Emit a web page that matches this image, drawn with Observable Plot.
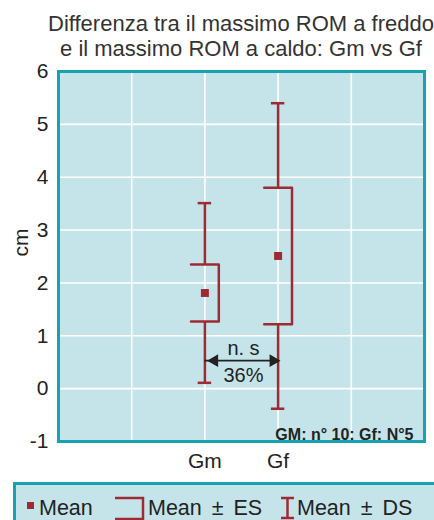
<!DOCTYPE html>
<html>
<head>
<meta charset="utf-8">
<script src="https://cdn.jsdelivr.net/npm/d3@7"></script>
<script src="https://cdn.jsdelivr.net/npm/@observablehq/plot@0.6"></script>
<style>
  html, body { margin: 0; padding: 0; background: #fff; }
  body { position: relative; width: 434px; height: 520px; overflow: hidden; font-family: "Liberation Sans", Arial, sans-serif; }
  #title { position: absolute; left: 41px; top: 11px; width: 400px; text-align: center; font-size: 22px; line-height: 25px; color: #333; white-space: nowrap; }
  #chart { position: absolute; left: 0; top: 60px; }
  #legend { position: absolute; left: 0; top: 482px; }
</style>
</head>
<body>
<div id="title"><span>Differenza tra il massimo ROM a freddo</span><br><span>e il massimo ROM a caldo: Gm vs Gf</span></div>
<div id="chart"></div>
<svg id="legend" width="434" height="38" font-family="Liberation Sans, Arial, sans-serif" font-size="21.5" fill="#222">
  <rect x="14.5" y="1.5" width="430" height="50" fill="#c5e4ea" stroke="#17a2b2" stroke-width="3"></rect>
  <rect x="27" y="20" width="7" height="7" fill="#9e2b34"></rect>
  <text x="39" y="33">Mean</text>
  <path d="M115,16H143V37H115" fill="none" stroke="#9e2b34" stroke-width="2.5"></path>
  <text x="148" y="33" word-spacing="4">Mean ± ES</text>
  <path d="M281,16H294M287.5,16V36M281,36H294" fill="none" stroke="#9e2b34" stroke-width="2.5"></path>
  <text x="297" y="33" word-spacing="4">Mean ± DS</text>
</svg>
<script>
// ---- data ----
const groups = ["Gm", "Gf"];
const means = [1.81, 2.51];
const esValues = [0.54, 1.29];
const dsValues = [1.70, 2.89];
const yTicks = [-1, 0, 1, 2, 3, 4, 5, 6];
const sigLabel = "n. s";
const pctLabel = "36%";
const noteLabel = "GM: n° 10; Gf: N°5";
const yLabel = "cm";

// ---- styling ----
const RED = "#9e2b34";
const TEAL = "#17a2b2";
const FILL = "#c5e4ea";
const CAP = 0.092;   // half width of DS caps (x units)
const BOX = 0.19;    // half width of ES bracket (x units)

// categories sit in slots 2 and 3 of a 0–5 axis
const rows = groups.map((g, i) => ({g, x: i + 2, mean: means[i], es: esValues[i], ds: dsValues[i]}));
const esPath = rows.flatMap(d => [
  {g: d.g, x: d.x - BOX, y: d.mean + d.es},
  {g: d.g, x: d.x + BOX, y: d.mean + d.es},
  {g: d.g, x: d.x + BOX, y: d.mean - d.es},
  {g: d.g, x: d.x - BOX, y: d.mean - d.es}
]);
const arrowY = 0.53;
const midX = (rows[0].x + rows[1].x) / 2;

const plot = Plot.plot({
  width: 434,
  height: 420,
  marginTop: 11,
  marginBottom: 39,
  marginLeft: 58,
  marginRight: 10,
  style: {fontFamily: "Liberation Sans, Arial, sans-serif", fontSize: "21px", color: "#222", background: "transparent"},
  x: {domain: [0, 5], ticks: rows.map(d => d.x), tickFormat: v => (rows.find(d => d.x === v) || {}).g, tickSize: 0, tickPadding: 12, label: null},
  y: {domain: [-1, 6], ticks: yTicks, tickFormat: v => String(v), tickSize: 0, tickPadding: 10, label: null},
  marks: [
    Plot.frame({fill: FILL}),
    Plot.ruleY([0, 1, 2, 3, 4, 5], {stroke: "white", strokeWidth: 1.6}),
    Plot.ruleX([1, 2, 3, 4], {stroke: "white", strokeWidth: 1.6}),
    // DS whiskers (outside the ES bracket)
    Plot.ruleX(rows, {x: "x", y1: d => d.mean + d.es, y2: d => d.mean + d.ds, stroke: RED, strokeWidth: 2.5}),
    Plot.ruleX(rows, {x: "x", y1: d => d.mean - d.ds, y2: d => d.mean - d.es, stroke: RED, strokeWidth: 2.5}),
    Plot.ruleY(rows, {y: d => d.mean + d.ds, x1: d => d.x - CAP, x2: d => d.x + CAP, stroke: RED, strokeWidth: 2.5}),
    Plot.ruleY(rows, {y: d => d.mean - d.ds, x1: d => d.x - CAP, x2: d => d.x + CAP, stroke: RED, strokeWidth: 2.5}),
    // ES bracket
    Plot.line(esPath, {x: "x", y: "y", z: "g", stroke: RED, strokeWidth: 2.5, curve: "linear"}),
    // mean
    Plot.dot(rows, {x: "x", y: "mean", symbol: "square", r: 4.5, fill: RED, stroke: "none"}),
    // significance arrow
    Plot.ruleY([arrowY], {x1: rows[0].x, x2: rows[1].x, stroke: "#222", strokeWidth: 1.6}),
    Plot.dot([arrowY], {x: rows[0].x, y: d => d, symbol: "triangle", r: 4.7, rotate: -90, dx: 9.6, fill: "#222", stroke: "none"}),
    Plot.dot([arrowY], {x: rows[1].x, y: d => d, symbol: "triangle", r: 4.7, rotate: 90, dx: -4.9, fill: "#222", stroke: "none"}),
    Plot.text([sigLabel], {x: midX, y: 0.75, text: d => d, fontSize: 20, dx: 2, fill: "#222"}),
    Plot.text([pctLabel], {x: midX, y: 0.24, text: d => d, fontSize: 20, dx: 2, fill: "#222"}),
    // note
    Plot.text([noteLabel], {frameAnchor: "bottom-right", text: d => d, fontSize: 16, fontWeight: "bold", textAnchor: "end", lineAnchor: "bottom", dx: -11, dy: -2, fill: "#222"}),
    // y label
    Plot.text([yLabel], {frameAnchor: "left", text: d => d, rotate: -90, dx: -37.5, fontSize: 21, fill: "#222"}),
    Plot.frame({stroke: TEAL, strokeWidth: 3})
  ]
});
document.getElementById("chart").appendChild(plot);
</script>
</body>
</html>
